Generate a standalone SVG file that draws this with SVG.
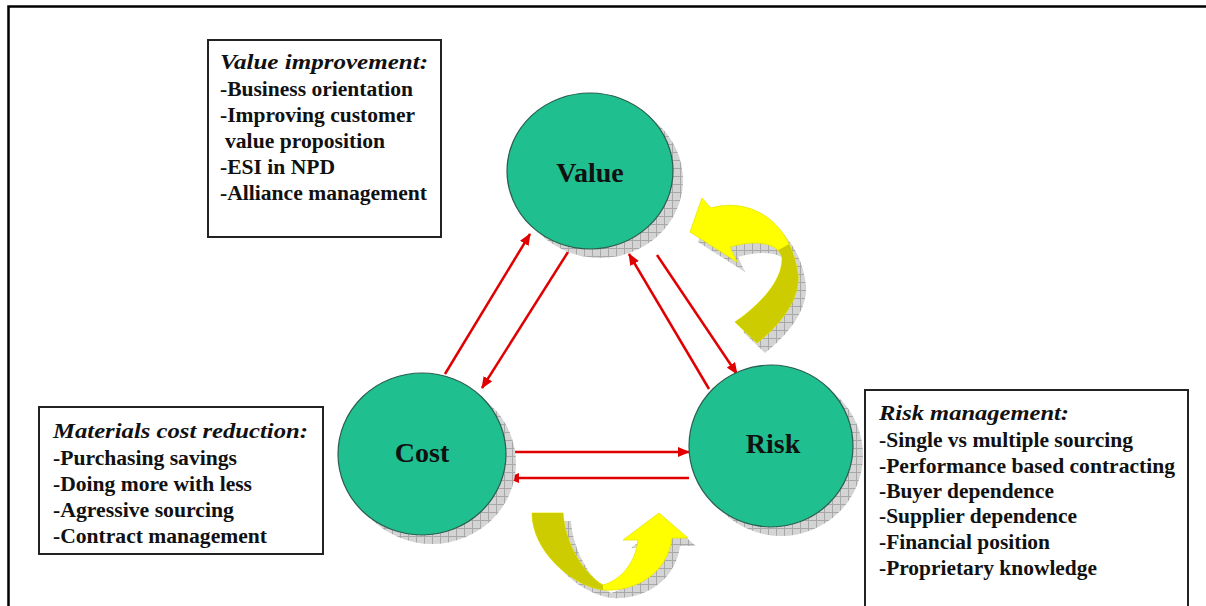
<svg xmlns="http://www.w3.org/2000/svg" width="1206" height="606" viewBox="0 0 1206 606">
<style>
.box{fill:#fff;stroke:#222;stroke-width:2}
.t{font-family:"Liberation Serif","Times New Roman",serif;font-weight:bold;font-size:20px;fill:#111}
.h{font-style:italic}
.lbl{font-family:"Liberation Serif","Times New Roman",serif;font-weight:bold;font-size:28px;fill:#111;text-anchor:middle}
.node{fill:#1fbf8f;stroke:#2b5e4e;stroke-width:1.2}
.shadow{fill:url(#grid)}
.conn{stroke:#e10000;stroke-width:2.5;fill:none;marker-end:url(#ah)}
.ybright{fill:#ffff00;stroke:#e6e600;stroke-width:0.8}
.ydark{fill:#cccc00}
</style>
<defs>
<pattern id="grid" width="8" height="8" patternUnits="userSpaceOnUse">
<rect width="8" height="8" fill="#d4d4d4"/>
<path d="M0 0.5H8M0.5 0V8" stroke="#a8a8a8" stroke-width="1"/>
</pattern>
<marker id="ah" viewBox="0 0 12 10" refX="11" refY="5" markerWidth="12" markerHeight="10" markerUnits="userSpaceOnUse" orient="auto">
<path d="M0 0L12 5L0 10Z" fill="#e10000"/>
</marker>
<clipPath id="darkTR"><polygon points="700,300 775,252 805,235 840,235 840,380 700,380"/></clipPath>
</defs>
<rect width="1206" height="606" fill="#fff"/>
<path d="M8.5 606V6.5H1206" fill="none" stroke="#000" stroke-width="2.5"/>

<g id="connectors">
<line class="conn" x1="445" y1="374" x2="530" y2="234"/>
<line class="conn" x1="568" y1="252" x2="482" y2="388"/>
<line class="conn" x1="709" y1="389" x2="629" y2="254"/>
<line class="conn" x1="657" y1="255" x2="737" y2="374"/>
<line class="conn" x1="507" y1="452" x2="689" y2="452"/>
<line class="conn" x1="689" y1="478" x2="508" y2="478"/>
</g>

<g id="node-value">
<ellipse class="shadow" cx="600" cy="180" rx="83" ry="78"/>
<ellipse class="node" cx="590" cy="171" rx="83" ry="78"/>
<text class="lbl" x="590" y="182">Value</text>
</g>
<g id="node-cost">
<ellipse class="shadow" cx="432" cy="463" rx="84" ry="81"/>
<ellipse class="node" cx="422" cy="454" rx="84" ry="81"/>
<text class="lbl" x="422" y="462">Cost</text>
</g>
<g id="node-risk">
<ellipse class="shadow" cx="781" cy="455" rx="82" ry="81"/>
<ellipse class="node" cx="771" cy="446" rx="82" ry="81"/>
<text class="lbl" x="773" y="453">Risk</text>
</g>

<g id="cycle-arrow-value">
<path class="shadow" transform="translate(8,10)" d="M690 232L702 198L711 208C745 198 790 215 798 275C800 300 780 325 757 343L735 322C760 305 783 280 782 258C780 245 760 238 730 247L737 262Z"/>
<path class="ybright" d="M690 232L702 198L711 208C745 198 790 215 798 275C800 300 780 325 757 343L735 322C760 305 783 280 782 258C780 245 760 238 730 247L737 262Z"/>
<path class="ydark" clip-path="url(#darkTR)" d="M690 232L702 198L711 208C745 198 790 215 798 275C800 300 780 325 757 343L735 322C760 305 783 280 782 258C780 245 760 238 730 247L737 262Z"/>
</g>
<g id="cycle-arrow-cost">
<path class="shadow" transform="translate(8,8)" d="M532 513L563 513C565 545 585 575 603 585C620 580 635 565 638 540L623 540L659 513L688 538L672 538C668 570 640 592 603 590C570 585 532 550 532 513Z"/>
<path class="ybright" d="M532 513L563 513C565 545 585 575 603 585C620 580 635 565 638 540L623 540L659 513L688 538L672 538C668 570 640 592 603 590C570 585 532 550 532 513Z"/>
<path class="ydark" d="M532 513L563 513C565 545 585 575 603 585L603 590C570 585 532 550 532 513Z"/>
</g>

<g id="box-value">
<rect class="box" x="208" y="40" width="233" height="197"/>
<text class="t h" x="220" y="69" textLength="208" lengthAdjust="spacingAndGlyphs">Value improvement:</text>
<text class="t" x="220" y="96" textLength="193" lengthAdjust="spacingAndGlyphs">-Business orientation</text>
<text class="t" x="220" y="122" textLength="195" lengthAdjust="spacingAndGlyphs">-Improving customer</text>
<text class="t" x="225" y="148" textLength="160" lengthAdjust="spacingAndGlyphs">value proposition</text>
<text class="t" x="220" y="174" textLength="115" lengthAdjust="spacingAndGlyphs">-ESI in NPD</text>
<text class="t" x="220" y="200" textLength="207" lengthAdjust="spacingAndGlyphs">-Alliance management</text>
</g>

<g id="box-cost">
<rect class="box" x="39" y="407" width="284" height="147"/>
<text class="t h" x="53" y="438" textLength="255" lengthAdjust="spacingAndGlyphs">Materials cost reduction:</text>
<text class="t" x="53" y="465" textLength="184" lengthAdjust="spacingAndGlyphs">-Purchasing savings</text>
<text class="t" x="53" y="491" textLength="199" lengthAdjust="spacingAndGlyphs">-Doing more with less</text>
<text class="t" x="53" y="517" textLength="181" lengthAdjust="spacingAndGlyphs">-Agressive sourcing</text>
<text class="t" x="53" y="543" textLength="214" lengthAdjust="spacingAndGlyphs">-Contract management</text>
</g>

<g id="box-risk">
<rect class="box" x="865" y="390" width="323" height="222"/>
<text class="t h" x="879" y="420" textLength="190" lengthAdjust="spacingAndGlyphs">Risk management:</text>
<text class="t" x="879" y="447" textLength="254" lengthAdjust="spacingAndGlyphs">-Single vs multiple sourcing</text>
<text class="t" x="879" y="473" textLength="296" lengthAdjust="spacingAndGlyphs">-Performance based contracting</text>
<text class="t" x="879" y="498" textLength="175" lengthAdjust="spacingAndGlyphs">-Buyer dependence</text>
<text class="t" x="879" y="523" textLength="198" lengthAdjust="spacingAndGlyphs">-Supplier dependence</text>
<text class="t" x="879" y="549" textLength="171" lengthAdjust="spacingAndGlyphs">-Financial position</text>
<text class="t" x="879" y="575" textLength="218" lengthAdjust="spacingAndGlyphs">-Proprietary knowledge</text>
</g>
</svg>
